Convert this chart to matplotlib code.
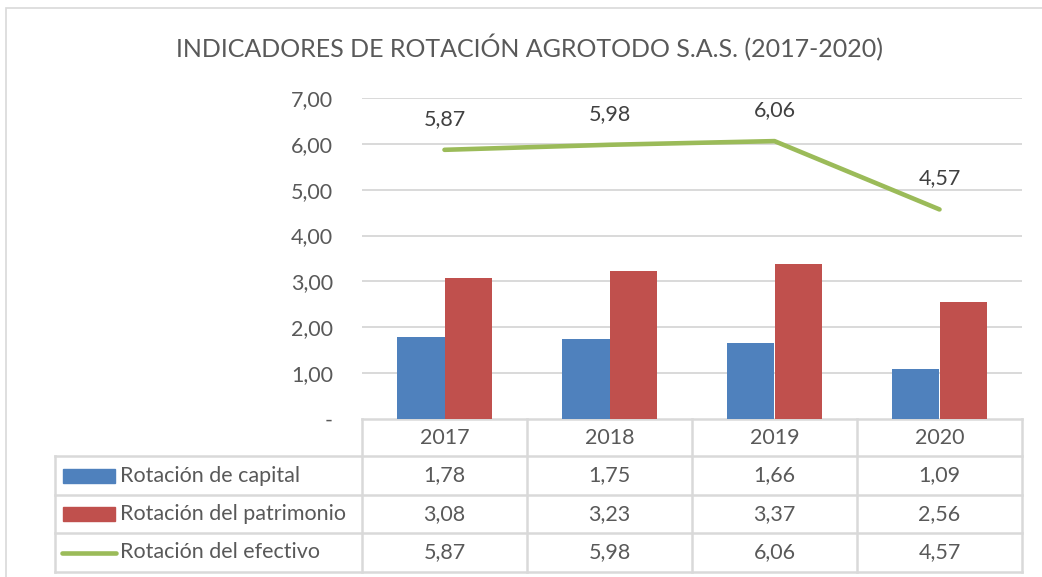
import matplotlib
matplotlib.use("Agg")
import matplotlib.pyplot as plt
import matplotlib.transforms as mtransforms
from matplotlib.patches import Rectangle
from matplotlib.lines import Line2D

plt.rcParams['font.family'] = ['Lato', 'DejaVu Sans']

# data
years = ['2017', '2018', '2019', '2020']
capital = [1.78, 1.75, 1.66, 1.09]
patrimonio = [3.08, 3.23, 3.37, 2.56]
efectivo = [5.87, 5.98, 6.06, 4.57]
series_names = ['Rotación de capital', 'Rotación del patrimonio', 'Rotación del efectivo']
yticks = [0, 1, 2, 3, 4, 5, 6, 7]

blue = '#4F81BD'
red = '#C0504D'
green = '#9BBB59'
grid = '#D9D9D9'
txt = '#595959'
fs = 15.5

def fmt(v):
    return '-' if v == 0 else f'{v:.2f}'.replace('.', ',')

W, H = 1042, 577
fig = plt.figure(figsize=(W / 100, H / 100), dpi=100)
fig.patch.set_facecolor('white')

# outer chart border
fig.add_artist(Rectangle((6 / W, -0.1), 1.2, 1 - 8 / H + 0.1, transform=fig.transFigure,
                         fill=False, edgecolor=grid, lw=1.2))

ax = fig.add_axes([362 / W, 1 - 419 / H, 660 / W, 321 / H])
x = list(range(len(years)))
bw = 0.285
ax.bar([i - bw / 2 for i in x], capital, bw, color=blue, zorder=3)
ax.bar([i + bw / 2 for i in x], patrimonio, bw, color=red, zorder=3)
ax.plot(x, efectivo, color=green, lw=3.3, solid_capstyle='round', zorder=4)
for i, v in zip(x, efectivo):
    ax.annotate(fmt(v), (i, v), xytext=(0, 31), textcoords='offset pixels',
                ha='center', va='center', fontsize=fs, color='#404040')

ax.set_xlim(-0.5, 3.5)
ax.set_ylim(0, 7)
ax.set_yticks(yticks)
ax.set_yticklabels([fmt(v) for v in yticks])
ax.tick_params(axis='y', length=0, pad=21, labelsize=fs, labelcolor=txt)
ax.tick_params(axis='x', length=0, labelbottom=False)
for s in ax.spines.values():
    s.set_visible(False)
for t in yticks[1:]:
    ax.axhline(t, color=grid, lw=1.4, zorder=1)

# data table below the plot
tr = mtransforms.blended_transform_factory(ax.transData, ax.transAxes)
px = 1 / 321
rows_y = [0, -37 * px, -76 * px, -114 * px, -153 * px]
left = -0.5 - 307 / 165
lkw = dict(color=grid, lw=1.8, transform=tr, clip_on=False, zorder=2)

ax.add_line(Line2D([-0.5, 3.5], [rows_y[0]] * 2, **lkw))
for yy in rows_y[1:]:
    ax.add_line(Line2D([left, 3.5], [yy] * 2, **lkw))
for xx in [-0.5, 0.5, 1.5, 2.5, 3.5]:
    ax.add_line(Line2D([xx, xx], [rows_y[0], rows_y[-1]], **lkw))
ax.add_line(Line2D([left, left], [rows_y[1], rows_y[-1]], **lkw))

for i, yr in enumerate(years):
    ax.text(i, (rows_y[0] + rows_y[1]) / 2, yr, transform=tr, ha='center', va='center',
            fontsize=fs, color=txt)

values = [capital, patrimonio, efectivo]
colors = [blue, red, green]
for r, (name, vals, c) in enumerate(zip(series_names, values, colors)):
    yc = (rows_y[r + 1] + rows_y[r + 2]) / 2
    kx0 = left + 8 / 165
    kx1 = left + 60 / 165
    if r < 2:
        ax.add_patch(Rectangle((kx0, yc - 7 * px), kx1 - kx0, 14 * px, transform=tr,
                               color=c, clip_on=False))
    else:
        ax.add_line(Line2D([kx0 - 1 / 165, kx1 + 1 / 165], [yc, yc], color=c, lw=3.3,
                           solid_capstyle='round', transform=tr, clip_on=False))
    ax.text(left + 65 / 165, yc, name, transform=tr, ha='left', va='center',
            fontsize=fs, color=txt)
    for i, v in enumerate(vals):
        ax.text(i, yc, fmt(v), transform=tr, ha='center', va='center',
                fontsize=fs, color=txt)

fig.text(530 / W, 1 - 48 / H, 'INDICADORES DE ROTACIÓN AGROTODO S.A.S. (2017-2020)',
         ha='center', va='center', fontsize=18, color=txt)

fig.savefig('out.png', dpi=100)
